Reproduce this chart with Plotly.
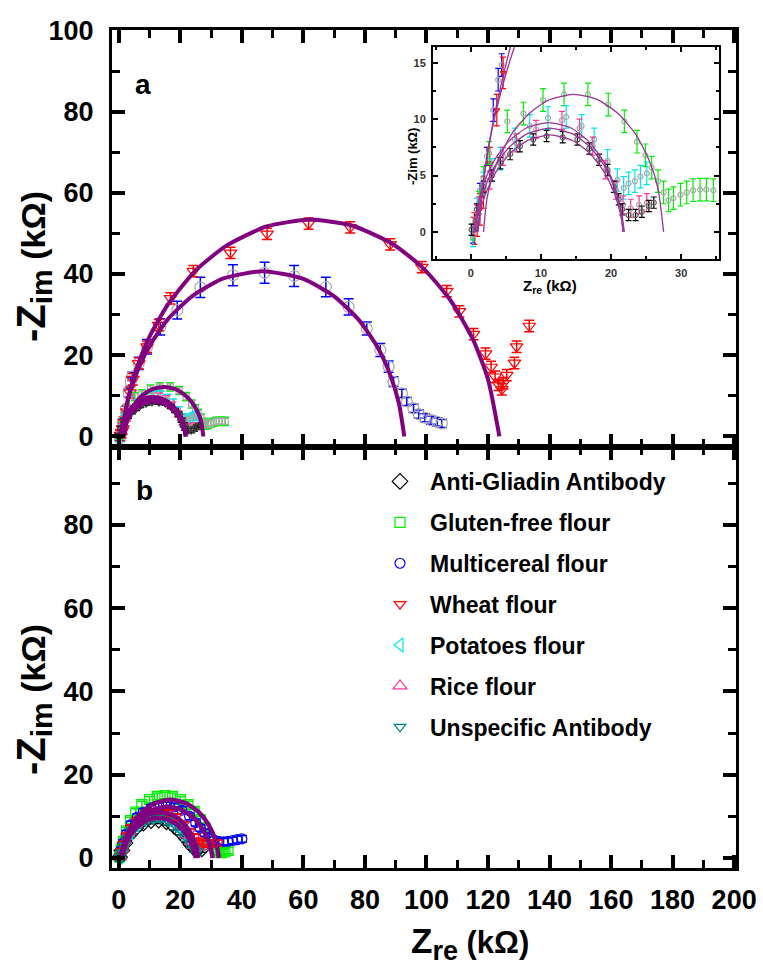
import plotly.graph_objects as go

# ---------------- DATA (kOhm) ----------------
# Panel a / inset: experimental points
black_x = [0.1, 0.85, 1.8, 3.0, 4.2, 5.6, 7.0, 8.9, 10.8, 13.1, 15.2, 16.9, 18.3, 19.5, 20.4, 21.1, 21.6, 22.5, 23.5, 24.4, 25.4, 26.1]
black_y = [0.2, 2.0, 4.0, 5.0, 6.1, 6.9, 7.6, 8.2, 8.5, 8.4, 8.2, 7.4, 6.4, 5.5, 4.0, 2.9, 2.0, 1.5, 1.5, 1.8, 2.3, 2.6]
black_err = 0.5

green_x = [0.3, 1.2, 1.8, 2.6, 5.2, 7.5, 10.3, 13.3, 16.7, 19.6, 21.9, 23.7, 24.9, 25.8, 26.7, 27.5, 28.2, 28.9, 29.9, 30.8, 31.7, 32.7, 33.6, 34.6]
green_y = [0.3, 2.6, 4.8, 7.0, 9.8, 10.5, 11.7, 12.2, 12.2, 11.3, 9.8, 8.0, 6.8, 5.7, 4.5, 3.5, 2.8, 3.0, 3.3, 3.5, 3.7, 3.75, 3.75, 3.7]
green_err = 1.0

cyan_x = [0.3, 0.9, 1.8, 3.0, 4.2, 6.3, 8.4, 11.0, 13.6, 15.8, 17.6, 19.5, 20.9, 21.8, 22.5, 23.4, 24.2, 25.1]
cyan_y = [-0.3, 2.0, 4.3, 5.5, 6.5, 8.2, 9.4, 10.1, 10.2, 9.4, 8.2, 6.3, 4.6, 3.9, 4.3, 4.5, 4.9, 5.2]
cyan_err = 1.0

pink_x = [0.4, 1.1, 2.7, 4.6, 6.5, 9.3, 13.0, 15.5, 17.4, 19.2, 20.7, 21.7, 22.8, 24.0, 25.1]
pink_y = [0.5, 2.3, 4.6, 6.7, 7.9, 9.1, 9.9, 9.2, 7.6, 5.5, 3.7, 2.4, 2.1, 2.4, 2.6]
pink_err = 0.8

wheat_x = [0.5, 0.9, 1.3, 1.8, 2.7, 3.7, 4.6, 6.5, 9.2, 13.0, 16.8, 24.2, 36.3, 48.2, 61.7, 75.2, 88.2, 98.5, 106.6, 110.7, 115.3, 119.2, 121.0, 122.3, 123.4, 124.5, 125.0, 126.1, 128.6, 129.3, 133.4]
wheat_y = [0.3, 1.0, 2.0, 3.5, 6.1, 10.8, 14.1, 18.0, 22.1, 27.4, 34.0, 40.7, 45.2, 49.9, 52.4, 51.5, 47.3, 41.7, 35.8, 30.8, 25.2, 20.4, 17.1, 14.7, 12.7, 11.6, 13.1, 15.1, 18.1, 22.1, 27.2]
wheat_err = 1.4

multi_x = [0.3, 1.3, 2.3, 3.2, 3.9, 4.4, 6.5, 9.2, 13.5, 19.0, 26.5, 37.1, 47.4, 57.0, 67.3, 74.7, 80.6, 85.0, 87.7, 89.3, 92.0, 93.6, 95.8, 97.5, 99.5, 101.5, 103.5, 105.0]
multi_y = [-0.5, 3.7, 6.7, 10.8, 13.5, 14.8, 18.0, 22.1, 27.0, 31.1, 36.7, 39.7, 40.3, 39.5, 36.8, 31.9, 26.6, 21.3, 17.2, 13.5, 10.6, 8.6, 6.9, 5.5, 4.6, 4.0, 3.6, 3.2]
multi_err = [0.5, 0.6, 0.8, 1.0, 1.0, 1.0, 1.5, 1.8, 2.0, 2.2, 2.5, 2.6, 2.6, 2.6, 2.4, 2.0, 1.6, 1.6, 1.4, 1.2, 1.0, 1.0, 1.0, 1.0, 1.0, 1.0, 1.0, 1.0]

# Panel a: fitted curves
fit_wheat_x = [1, 2, 3, 4, 6, 10, 16, 25, 35, 48, 62, 76, 89, 99, 108, 115, 120, 123.7]
fit_wheat_y = [0, 5.4, 9.2, 12.2, 17.2, 24.6, 32.5, 40.9, 47.0, 51.7, 53.4, 51.9, 47.4, 41.4, 33.3, 24.1, 14.1, 0]
fit_multi_x = [1, 2, 3, 4, 6, 10, 16, 24, 34, 46.9, 60, 70, 78, 84, 88, 91, 92.8]
fit_multi_y = [0, 5.5, 9.0, 11.7, 16.0, 22.3, 28.9, 34.6, 38.9, 40.7, 38.8, 34.5, 28.7, 22.1, 15.6, 8.3, 0]
fit_green_x = [1.8, 2.3, 3, 4, 6, 8.5, 11, 14.65, 18, 21, 23.5, 25.5, 26.7, 27.5]
fit_green_y = [0, 2.95, 4.8, 6.55, 8.86, 10.6, 11.67, 12.2, 11.76, 10.5, 8.67, 6.25, 3.85, 0]
fit_black_x = [0.8, 1.2, 2, 3.5, 5.5, 8, 11.3, 14.5, 17, 19, 20.5, 21.3, 21.8]
fit_black_y = [0, 1.45, 3.2, 5.23, 6.9, 8.08, 8.6, 8.11, 6.96, 5.33, 3.38, 1.72, 0]
fit_cyan_x = [0.6, 1.0, 2, 3.5, 5.5, 8, 11.25, 14.5, 17, 19, 20.5, 21.5, 21.9]
fit_cyan_y = [0, 1.71, 3.94, 5.9, 7.53, 8.7, 9.2, 8.7, 7.53, 5.9, 3.94, 1.71, 0]
fit_pink_x = [0.5, 0.9, 2, 3.5, 5.5, 8, 11.1, 14.2, 16.7, 18.7, 20.2, 21.3, 21.7]
fit_pink_y = [0, 2.1, 4.58, 6.5, 8.1, 9.24, 9.7, 9.24, 8.1, 6.5, 4.58, 2.1, 0]

# Panel b: experimental points
b_green_x = [0.3, 0.8, 1.5, 2.5, 3.8, 5.5, 7.5, 10, 12.5, 15, 17.5, 20, 22.5, 24.5, 26.5, 28, 29.5, 30.5, 31.5, 32.5, 33.5, 34.5, 35.5]
b_green_y = [0.2, 2.0, 4.0, 6.5, 9.0, 11.0, 12.8, 14.0, 14.8, 15.0, 14.8, 14.0, 12.8, 11.2, 9.2, 7.2, 5.0, 3.3, 2.0, 1.4, 1.3, 1.5, 1.8]
b_blue_x = [0.3, 0.8, 1.5, 2.5, 4, 6, 8, 10.5, 13, 15.5, 18, 20.5, 23, 25, 26.5, 28, 29.5, 31, 32.5, 34, 35.5, 37, 38.5, 40]
b_blue_y = [0.2, 1.8, 3.6, 5.8, 8.0, 9.8, 11.0, 12.0, 12.5, 12.6, 12.3, 11.5, 10.0, 8.5, 7.2, 6.0, 5.0, 4.3, 4.0, 3.9, 4.0, 4.2, 4.4, 4.6]
b_red_x = [0.3, 0.8, 1.5, 2.5, 4, 6, 8.5, 11, 13.5, 16, 18.5, 21, 23, 24.5, 26, 27.5, 29, 30.5, 32]
b_red_y = [0.2, 1.5, 3.2, 5.2, 7.2, 9.0, 10.3, 11.0, 11.2, 10.8, 9.8, 8.0, 6.3, 5.0, 4.0, 3.5, 3.4, 3.5, 3.6]
b_teal_x = [0.3, 0.8, 1.5, 2.5, 4, 6, 8.5, 11, 13.5, 16, 18.5, 20.5, 22, 23.5, 24.5, 25.5]
b_teal_y = [0.1, 1.2, 2.8, 4.6, 6.5, 8.0, 9.0, 9.5, 9.4, 8.8, 7.6, 6.2, 4.8, 3.3, 2.2, 1.5]
b_small_x = [0.3, 1, 2, 3.5, 5.5, 8, 10.5, 13, 15.5, 18, 20, 22, 23.5, 24.5, 25.5, 27]
b_black_y = [0.2, 1.8, 3.6, 5.6, 7.2, 8.4, 9.0, 9.1, 8.7, 7.6, 6.3, 4.6, 3.2, 2.4, 2.0, 2.2]
b_cyan_y = [0.2, 2.0, 4.0, 6.0, 7.8, 9.1, 9.8, 10.0, 9.6, 8.5, 7.1, 5.3, 3.9, 3.2, 3.0, 3.2]
b_pink_y = [0.2, 2.1, 4.2, 6.3, 8.2, 9.6, 10.3, 10.5, 10.1, 9.0, 7.5, 5.6, 4.0, 3.0, 2.6, 2.8]
b_err = 0.8

# Panel b: fitted curves
fit_b1_x = [1, 1.5, 2.5, 4.5, 7.5, 11.5, 16.75, 22, 26, 29, 31, 32, 32.5]
fit_b1_y = [0, 2.49, 5.1, 8.21, 11.02, 13.1, 14.0, 13.1, 11.02, 8.21, 5.1, 2.49, 0]
fit_b2_x = [1, 1.5, 2.5, 4.5, 7.5, 11.5, 15.75, 20, 24, 27, 29, 30, 30.5]
fit_b2_y = [0, 1.98, 4.33, 7.22, 9.83, 11.68, 12.3, 11.68, 9.83, 7.22, 4.33, 1.98, 0]
fit_b3_x = [0.8, 1.2, 2.2, 4, 6.5, 9.5, 13.3, 17.1, 20.1, 22.6, 24.4, 25.4, 25.8]
fit_b3_y = [0, 1.92, 4.37, 6.9, 9.01, 10.42, 11.0, 10.42, 9.01, 6.9, 4.37, 1.92, 0]
fit_b4_x = [0.8, 1.2, 2.2, 4, 6.5, 9.5, 12.9, 16.3, 19.3, 21.8, 23.6, 24.6, 25]
fit_b4_y = [0, 1.35, 3.49, 5.85, 7.82, 9.13, 9.6, 9.13, 7.82, 5.85, 3.49, 1.35, 0]

names = ["Anti-Gliadin Antibody", "Gluten-free flour", "Multicereal flour", "Wheat flour",
         "Potatoes flour", "Rice flour", "Unspecific Antibody"]

# ---------------- STYLE ----------------
FONT = "Liberation Sans, Arial, sans-serif"
C_BLACK, C_GREEN, C_BLUE, C_RED = "#000000", "#00ee00", "#0000ff", "#ff0000"
C_CYAN, C_PINK, C_TEAL = "#00e5ee", "#ff3399", "#008080"
C_FIT = "#800080"
C_GREY = "#a8a8a8"

# layout in pixels
W, H = 763, 967
ML, MR, MT, MB = 112, 27, 30, 99
PW, PH = W - ML - MR, H - MT - MB
SPLIT = 447  # y-pixel of the border between panels


def px2paper(px, py):
    return (px - ML) / PW, (H - MB - py) / PH


split_frac = (H - MB - SPLIT) / PH
ins_x0, ins_y0 = px2paper(433, 259)
ins_x1, ins_y1 = px2paper(719, 47)

fig = go.Figure()


def pts(x, y, err, xa, ya, mcol, ecol, sym, size, name=None, show=False, rank=None,
        ethick=1.5, ewidth=5):
    if isinstance(err, list):
        ey = dict(type="data", array=err, visible=True, color=ecol, thickness=ethick, width=ewidth)
    else:
        ey = dict(type="constant", value=err, visible=True, color=ecol, thickness=ethick, width=ewidth)
    fig.add_trace(go.Scatter(
        x=x, y=y, mode="markers", xaxis=xa, yaxis=ya,
        marker=dict(symbol=sym, size=size, color=mcol, line=dict(color=mcol, width=1.2)),
        error_y=ey, name=name, showlegend=show, legendgroup=name,
        legendrank=rank if rank else 1000, hoverinfo="skip"))


def fit(x, y, xa, ya, width=4.5, color=C_FIT):
    fig.add_trace(go.Scatter(x=x, y=y, mode="lines", xaxis=xa, yaxis=ya,
                             line=dict(color=color, width=width, shape="spline", smoothing=0.6),
                             showlegend=False, hoverinfo="skip"))


# ---- panel a (xaxis x2, yaxis y) ----
pts(multi_x, multi_y, multi_err, "x2", "y", C_GREY, C_BLUE, "circle-open", 11, names[2])
pts(wheat_x, wheat_y, wheat_err, "x2", "y", C_RED, C_RED, "triangle-down-open", 11, names[3])
pts(green_x, green_y, green_err, "x2", "y", C_GREY, C_GREEN, "square-open", 6, names[1], ewidth=4)
pts(cyan_x, cyan_y, cyan_err, "x2", "y", C_GREY, C_CYAN, "triangle-left-open", 6, names[4], ewidth=4)
pts(pink_x, pink_y, pink_err, "x2", "y", C_GREY, C_PINK, "triangle-up-open", 6, names[5], ewidth=4)
pts(black_x, black_y, black_err, "x2", "y", "#404040", C_BLACK, "diamond-open", 6, names[0], ewidth=4)
for fx, fy in [(fit_wheat_x, fit_wheat_y), (fit_multi_x, fit_multi_y), (fit_green_x, fit_green_y),
               (fit_black_x, fit_black_y), (fit_cyan_x, fit_cyan_y), (fit_pink_x, fit_pink_y)]:
    fit(fx, fy, "x2", "y", width=4)

# ---- inset (x3, y3) ----
pts(multi_x, multi_y, multi_err, "x3", "y3", C_GREY, C_BLUE, "circle-open", 5, names[2], ethick=1.2, ewidth=3)
pts(wheat_x, wheat_y, wheat_err, "x3", "y3", C_RED, C_RED, "triangle-down-open", 5, names[3], ethick=1.2, ewidth=3)
pts(green_x, green_y, green_err, "x3", "y3", C_GREY, C_GREEN, "circle-open", 5, names[1], ethick=1.2, ewidth=3)
pts(cyan_x, cyan_y, cyan_err, "x3", "y3", C_GREY, C_CYAN, "circle-open", 5, names[4], ethick=1.2, ewidth=3)
pts(pink_x, pink_y, pink_err, "x3", "y3", C_GREY, C_PINK, "circle-open", 5, names[5], ethick=1.2, ewidth=3)
pts(black_x, black_y, black_err, "x3", "y3", "#606060", C_BLACK, "circle-open", 5, names[0], ethick=1.2, ewidth=3)
for fx, fy in [(fit_wheat_x, fit_wheat_y), (fit_multi_x, fit_multi_y), (fit_green_x, fit_green_y),
               (fit_black_x, fit_black_y), (fit_cyan_x, fit_cyan_y), (fit_pink_x, fit_pink_y)]:
    fit(fx, fy, "x3", "y3", width=1.3, color="#993399")

# ---- panel b (x, y2) ----
pts(b_small_x, b_black_y, b_err, "x", "y2", C_BLACK, C_BLACK, "diamond-open", 12, names[0], True, 1)
pts(b_small_x, b_cyan_y, b_err, "x", "y2", C_CYAN, C_CYAN, "triangle-left-open", 12, names[4], True, 5)
pts(b_small_x, b_pink_y, b_err, "x", "y2", C_PINK, C_PINK, "triangle-up-open", 12, names[5], True, 6)
pts(b_green_x, b_green_y, b_err, "x", "y2", C_GREEN, C_GREEN, "square-open", 10, names[1], True, 2)
pts(b_blue_x, b_blue_y, b_err, "x", "y2", C_BLUE, C_BLUE, "circle-open", 10, names[2], True, 3)
pts(b_red_x, b_red_y, b_err, "x", "y2", C_RED, C_RED, "triangle-down-open", 10, names[3], True, 4)
pts(b_teal_x, b_teal_y, b_err, "x", "y2", C_TEAL, C_TEAL, "triangle-down-open", 10, names[6], True, 7)
for fx, fy in [(fit_b1_x, fit_b1_y), (fit_b2_x, fit_b2_y), (fit_b3_x, fit_b3_y), (fit_b4_x, fit_b4_y)]:
    fit(fx, fy, "x", "y2", width=4.5)

# ---------------- AXES ----------------
tickfont = dict(family=FONT, size=27, color="black", weight="bold")
main_axis = dict(showline=True, linewidth=3, linecolor="black", mirror="ticks",
                 ticks="inside", ticklen=13, tickwidth=3.5, tickcolor="black",
                 showgrid=False, zeroline=False, tickfont=tickfont, ticklabelstandoff=10,
                 minor=dict(ticks="inside", ticklen=8, tickwidth=3, tickcolor="black", showgrid=False))
inset_axis = dict(showline=True, linewidth=2, linecolor="black", mirror="ticks",
                  ticks="inside", ticklen=5, tickwidth=2, tickcolor="black",
                  showgrid=False, zeroline=False, ticklabelstandoff=3,
                  tickfont=dict(family=FONT, size=11, color="#333333", weight="bold"))

fig.update_layout(
    xaxis=dict(main_axis, domain=[0, 1], anchor="y2", range=[-2.2, 200.6], tick0=0, dtick=20,
               ticklabelstandoff=6, minor=dict(main_axis["minor"], dtick=10)),
    yaxis2=dict(main_axis, domain=[0, split_frac], anchor="x", range=[-2.4, 98.7], tick0=0, dtick=20,
                minor=dict(main_axis["minor"], dtick=10)),
    xaxis2=dict(main_axis, domain=[0, 1], anchor="y", range=[-2.2, 200.6], tick0=0, dtick=20,
                showticklabels=False, minor=dict(main_axis["minor"], dtick=10)),
    yaxis=dict(main_axis, domain=[split_frac, 1], anchor="x2", range=[-2.6, 100.1], tick0=0, dtick=20,
               minor=dict(main_axis["minor"], dtick=10)),
    xaxis3=dict(inset_axis, domain=[ins_x0, ins_x1], anchor="y3", range=[-5.4, 35.4], tick0=0, dtick=10,
                minor=dict(ticks="inside", ticklen=3, tickwidth=1.5, tickcolor="black", dtick=5)),
    yaxis3=dict(inset_axis, domain=[ins_y0, ins_y1], anchor="x3", range=[-2.4, 16.4], tick0=0, dtick=5,
                minor=dict(ticks="inside", ticklen=3, tickwidth=1.5, tickcolor="black", dtick=2.5)),
    width=W, height=H,
    margin=dict(l=ML, r=MR, t=MT, b=MB, autoexpand=False),
    paper_bgcolor="white", plot_bgcolor="white",
    font=dict(family=FONT, color="black"),
    showlegend=True,
    legend=dict(x=px2paper(370, 0)[0], y=px2paper(0, 460)[1], xanchor="left", yanchor="top",
                bgcolor="rgba(0,0,0,0)", borderwidth=0, traceorder="grouped", tracegroupgap=8,
                font=dict(family=FONT, size=23, color="black", weight="bold"),
                itemsizing="trace", itemwidth=50),
)

ann = []


def text(px, py, s, size, angle=0, weight="bold", color="black"):
    xp, yp = px2paper(px, py)
    ann.append(dict(x=xp, y=yp, xref="paper", yref="paper", text=s, showarrow=False,
                    textangle=angle, xanchor="center", yanchor="middle",
                    font=dict(family=FONT, size=size, color=color, weight=weight)))


ytitle = ("<span style='font-size:40px'>-Z</span><sub><span style='font-size:30px'>im</span></sub>"
          "<span style='font-size:34px'> (kΩ)</span>")
xtitle = ("<span style='font-size:35px'>Z</span><sub><span style='font-size:27px'>re</span></sub>"
          "<span style='font-size:31px'> (kΩ)</span>")
text(143, 84, "a", 28)
text(144, 490, "b", 28)
text(33, 267, ytitle, 34, angle=-90)
text(33, 700, ytitle, 34, angle=-90)
text(470, 944, xtitle, 31)
text(412, 157, "-Zim (kΩ)", 13, angle=-90)
text(550, 286, "Z<sub>re</sub> (kΩ)", 15)
fig.update_layout(annotations=ann)

fig.write_html("out.html", config={"displayModeBar": False},
               post_script="document.body.style.margin='0px';document.body.style.overflow='hidden';")
